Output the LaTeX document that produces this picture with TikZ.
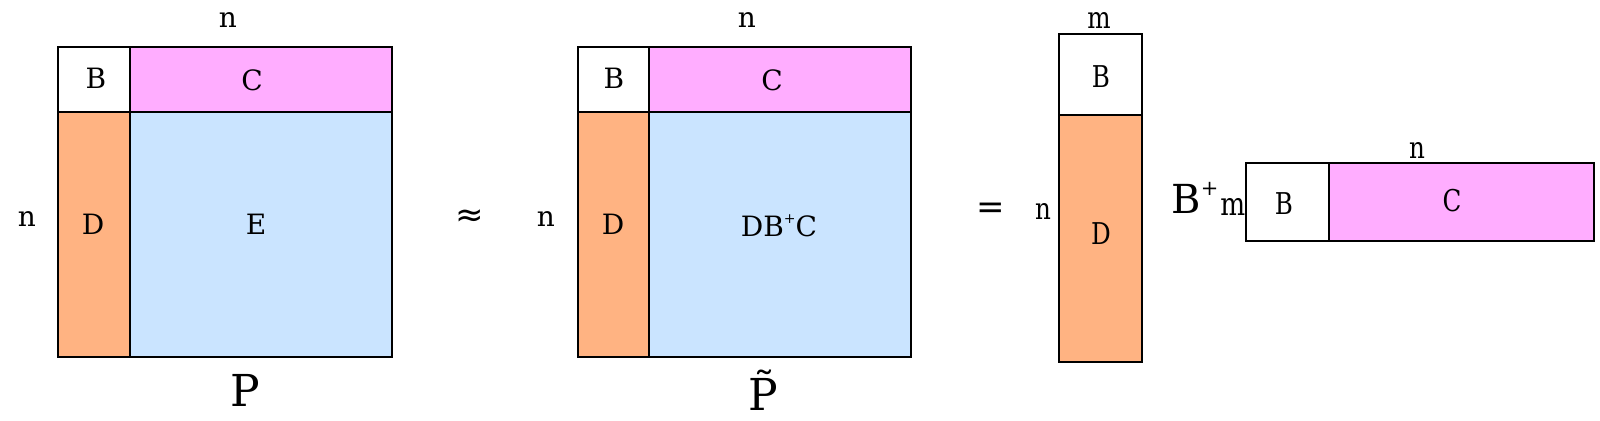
\documentclass[tikz,border=0pt]{standalone}
\usepackage{fontspec}
\setmainfont{DejaVu Serif}
\newfontfamily\condf[FakeStretch=0.82]{DejaVu Serif}
\newfontfamily\symfnt{DejaVu Sans}
\definecolor{cpink}{RGB}{255,173,255}
\definecolor{corange}{RGB}{255,179,130}
\definecolor{cblue}{RGB}{202,228,255}
\begin{document}
\begin{tikzpicture}[x=0.5pt,y=-0.5pt,
  cell/.style={draw=black,line width=1pt},
  lbl/.style={inner sep=0pt,font=\fontsize{14}{17}\selectfont},
  clbl/.style={inner sep=0pt,font=\condf\fontsize{15}{18}\selectfont},
  big/.style={inner sep=0pt,font=\fontsize{22}{26}\selectfont}]
\useasboundingbox (0,0) rectangle (1600,420);
% ---- P
\draw[cell,fill=white]   (58,47) rectangle (130,112);
\draw[cell,fill=cpink]   (130,47) rectangle (392,112);
\draw[cell,fill=corange] (58,112) rectangle (130,357);
\draw[cell,fill=cblue]   (130,112) rectangle (392,357);
\node[lbl] (pB) at (96,78) {B};
\node[lbl] (pC) at (252,80) {C};
\node[lbl] (pD) at (93,224) {D};
\node[lbl] (pE) at (256,224) {E};
\node[lbl] (pnt) at (228,20) {n};
\node[lbl] (pnl) at (27,219) {n};
\node[big] (pP) at (245,390) {P};
% ---- approx
\node[lbl,font=\symfnt\fontsize{17}{20}\selectfont] (approx) at (470,218) {≈};
% ---- P tilde
\draw[cell,fill=white]   (578,47) rectangle (649,112);
\draw[cell,fill=cpink]   (649,47) rectangle (911,112);
\draw[cell,fill=corange] (578,112) rectangle (649,357);
\draw[cell,fill=cblue]   (649,112) rectangle (911,357);
\node[lbl] (tB) at (614,78) {B};
\node[lbl] (tC) at (772,80) {C};
\node[lbl] (tD) at (613,224) {D};
\node[lbl] (tE) at (779,226) {DB\raisebox{6.5pt}{\fontsize{7}{8}\selectfont +}C};
\node[lbl] (tnt) at (747,20) {n};
\node[lbl] (tnl) at (546,219) {n};
\node[big] (tP) at (763,390) {\~{P}};
% ---- equals
\node[lbl,font=\symfnt\fontsize{17}{20}\selectfont] (eq) at (991,211) {=};
% ---- tall column
\draw[cell,fill=white]   (1059,34) rectangle (1142,115);
\draw[cell,fill=corange] (1059,115) rectangle (1142,362);
\node[clbl] (cB) at (1101,77) {B};
\node[clbl] (cD) at (1101,234) {D};
\node[clbl] (cm) at (1099,20) {m};
\node[clbl] (cn) at (1043,211) {n};
% ---- B+ and row
\node[inner sep=0pt,anchor=base west,font=\fontsize{20}{24}\selectfont] (bplus) at (1171,213) {B\raisebox{9pt}{\fontsize{10.5}{12}\selectfont +}};
\node[clbl,anchor=base west,font=\condf\fontsize{16}{19}\selectfont] (rm) at (1220,215) {m};
\draw[cell,fill=white] (1246,163) rectangle (1329,241);
\draw[cell,fill=cpink] (1329,163) rectangle (1594,241);
\node[clbl] (rB) at (1284,204) {B};
\node[clbl] (rC) at (1452,201) {C};
\node[clbl] (rn) at (1417,150) {n};
\end{tikzpicture}
\end{document}
